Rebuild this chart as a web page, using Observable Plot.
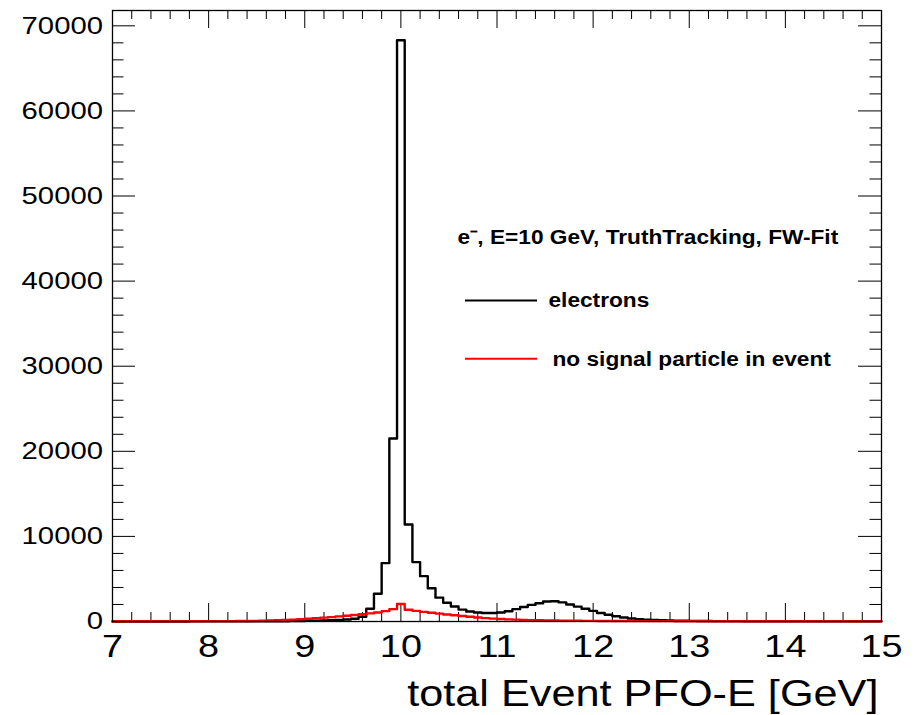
<!DOCTYPE html>
<html>
<head>
<meta charset="utf-8">
<script src="https://cdn.jsdelivr.net/npm/d3@7"></script>
<script src="https://cdn.jsdelivr.net/npm/@observablehq/plot@0.6"></script>
<style>
  html, body { margin: 0; padding: 0; background: #fff; }
  #chart svg { display: block; background: #fff; }
</style>
</head>
<body>
<div id="chart"></div>
<script>
// ---- Data: 100 bins of 0.08 GeV from 7 to 15 ----
const xMin = 7, xMax = 15, binWidth = 0.08;

const electrons = [
  5, 5, 6, 5, 6, 7, 6, 7, 8, 8,
  9, 10, 10, 11, 12, 14, 15, 17, 20, 23,
  27, 32, 38, 46, 56, 70, 88, 110, 140, 180,
  240, 330, 550, 1490, 3260, 6860, 21500, 68300, 11400, 6980,
  5330, 3900, 2800, 2200, 1760, 1400, 1180, 1060, 1000, 1000,
  1050, 1200, 1450, 1700, 1950, 2150, 2350, 2380, 2250, 2000,
  1750, 1500, 1250, 1000, 800, 620, 470, 360, 280, 220,
  170, 140, 115, 95, 80, 70, 62, 56, 50, 46,
  42, 39, 36, 34, 32, 30, 28, 27, 26, 25,
  24, 23, 22, 21, 20, 19, 19, 18, 18, 17
];

const noSignal = [
  25, 25, 26, 27, 28, 29, 30, 31, 32, 33,
  35, 37, 39, 41, 44, 48, 54, 62, 74, 90,
  112, 140, 175, 215, 265, 320, 380, 450, 520, 600,
  680, 760, 850, 950, 1060, 1220, 1450, 2050, 1380, 1250,
  1130, 1030, 930, 830, 730, 640, 550, 470, 400, 340,
  290, 250, 215, 185, 160, 140, 125, 112, 100, 92,
  85, 78, 72, 67, 62, 58, 54, 51, 48, 45,
  43, 41, 39, 37, 35, 34, 33, 32, 31, 30,
  29, 29, 28, 27, 27, 26, 26, 25, 25, 24,
  24, 23, 23, 22, 22, 21, 21, 20, 20, 20
];

const xMajorTicks = [7, 8, 9, 10, 11, 12, 13, 14, 15];
const xTickLabels = ["7", "8", "9", "10", "11", "12", "13", "14", "15"];
const yMajorTicks = [0, 10000, 20000, 30000, 40000, 50000, 60000, 70000];
const yTickLabels = ["0", "10000", "20000", "30000", "40000", "50000", "60000", "70000"];
const yMax = 71800;

const xTitle = "total Event PFO-E [GeV]";
const legendHeader = "e\u207B, E=10 GeV, TruthTracking, FW-Fit";
const seriesNames = ["electrons", "no signal particle in event"];
const seriesColors = ["#000000", "#ff0000"];

// ---- Derived tables ----
const edges = electrons.map((_, i) => +(xMin + i * binWidth).toFixed(2));
function steps(values) {
  const pts = values.map((v, i) => ({x: edges[i], y: v}));
  pts.push({x: xMax, y: values[values.length - 1]});
  return pts;
}
const xMinorTicks = d3.range(0, 41).map(i => +(xMin + i * 0.2).toFixed(2)).filter(v => Math.abs(v - Math.round(v)) > 1e-6);
const yMinorTicks = d3.range(0, 36).map(i => i * 2000).filter(v => v % 10000 !== 0 && v < yMax);

const W = 919, H = 715, mL = 112, mR = 38, mT = 10, mB = 94;
const plotW = W - mL - mR, plotH = H - mT - mB;
const font = "'Liberation Sans', Arial, Helvetica, sans-serif";

const xLen = 18, xLenMinor = 9, yLen = 23, yLenMinor = 11.5;

const chart = Plot.plot({
  width: W, height: H,
  marginLeft: mL, marginRight: mR, marginTop: mT, marginBottom: mB,
  x: {domain: [xMin, xMax], axis: null},
  y: {domain: [0, yMax], axis: null},
  style: {fontFamily: font, background: "#fff", overflow: "visible"},
  marks: [
    // ticks (inside the frame, all four sides)
    Plot.tickX(xMajorTicks, {x: d => d, insetTop: plotH - xLen, stroke: "#000", strokeWidth: 1}),
    Plot.tickX(xMinorTicks, {x: d => d, insetTop: plotH - xLenMinor, stroke: "#000", strokeWidth: 1}),
    Plot.tickX(xMajorTicks, {x: d => d, insetBottom: plotH - xLen, stroke: "#000", strokeWidth: 1}),
    Plot.tickX(xMinorTicks, {x: d => d, insetBottom: plotH - xLenMinor, stroke: "#000", strokeWidth: 1}),
    Plot.tickY(yMajorTicks, {y: d => d, insetRight: plotW - yLen, stroke: "#000", strokeWidth: 1}),
    Plot.tickY(yMinorTicks, {y: d => d, insetRight: plotW - yLenMinor, stroke: "#000", strokeWidth: 1}),
    Plot.tickY(yMajorTicks, {y: d => d, insetLeft: plotW - yLen, stroke: "#000", strokeWidth: 1}),
    Plot.tickY(yMinorTicks, {y: d => d, insetLeft: plotW - yLenMinor, stroke: "#000", strokeWidth: 1}),

    // histograms
    Plot.line(steps(electrons), {x: "x", y: "y", curve: "step-after", stroke: seriesColors[0], strokeWidth: 2.4}),
    Plot.line(steps(noSignal), {x: "x", y: "y", curve: "step-after", stroke: seriesColors[1], strokeWidth: 2.4}),

    Plot.frame({stroke: "#000", strokeWidth: 1.3}),

    // tick labels
    Plot.text(xMajorTicks, {x: d => d, y: 0, text: (d, i) => xTickLabels[i], dy: 25.4, fontSize: 31,
      lineAnchor: "middle", textAnchor: "middle", fill: "#000", ariaDescription: "xlabels"}),
    Plot.text(yMajorTicks, {x: xMin, y: d => d, text: (d, i) => yTickLabels[i], dx: -9.5, fontSize: 24,
      lineAnchor: "middle", textAnchor: "end", fill: "#000", ariaDescription: "ylabels"}),
    Plot.text([xTitle], {x: xMax, y: 0, text: d => d, dx: -3, dy: 72.5, fontSize: 37,
      lineAnchor: "middle", textAnchor: "end", fill: "#000", ariaDescription: "xtitle"}),

    // legend
    Plot.text([legendHeader], {frameAnchor: "top-left", text: d => d, dx: 345, dy: 226.6, fontSize: 21,
      fontWeight: "bold", lineAnchor: "middle", textAnchor: "start", fill: "#000", ariaDescription: "legend"}),
    Plot.text([seriesNames[0]], {frameAnchor: "top-left", text: d => d, dx: 436, dy: 290, fontSize: 21,
      fontWeight: "bold", lineAnchor: "middle", textAnchor: "start", fill: "#000", ariaDescription: "legend"}),
    Plot.text([seriesNames[1]], {frameAnchor: "top-left", text: d => d, dx: 440, dy: 348.3, fontSize: 21,
      fontWeight: "bold", lineAnchor: "middle", textAnchor: "start", fill: "#000", ariaDescription: "legend"}),
    Plot.ruleY([yMax], {y: d => d, dy: 290, insetLeft: 353, insetRight: 344, stroke: seriesColors[0], strokeWidth: 2}),
    Plot.ruleY([yMax], {y: d => d, dy: 348.3, insetLeft: 353, insetRight: 344, stroke: seriesColors[1], strokeWidth: 2})
  ]
});

document.getElementById("chart").appendChild(chart);

// widen glyphs horizontally (about each text's anchor point) to match the reference's wide rendering
function stretch(desc, factor) {
  d3.select(chart).selectAll(`g[aria-description="${desc}"] text`).each(function() {
    const tr = this.getAttribute("transform") || "";
    this.setAttribute("transform", `${tr} scale(${factor},1)`.trim());
  });
}
stretch("xlabels", 1.22);
stretch("ylabels", 1.22);
stretch("xtitle", 1.17);
stretch("legend", 1.08);
</script>
</body>
</html>
